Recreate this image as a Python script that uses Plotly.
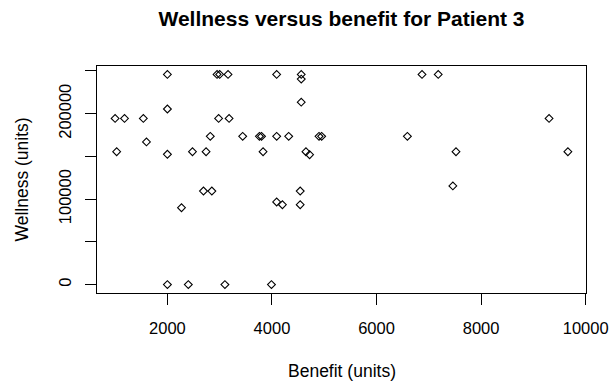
import plotly.graph_objects as go

# Benefit (x) and wellness (y) readings for Patient 3
benefit = [2000, 2950, 3000, 3160, 4090, 4560, 4560, 6870, 7180,
           4560, 2000,
           1000, 1180, 1540, 2980, 3180, 9300,
           2820, 3440, 3760, 3800, 4090, 4320, 4900, 4950, 6590,
           1600,
           1030, 2000, 2480, 2740, 3830, 4650, 4720, 7520, 9660,
           7460,
           2690, 2850, 4540,
           4090, 4200, 4540, 2270,
           2000, 2400, 3100, 3990]
wellness = [246000, 246000, 246000, 246000, 246000, 246000, 240500, 246000, 246000,
            213500, 205500,
            194500, 194500, 194500, 194500, 194500, 194500,
            173500, 173500, 173500, 173500, 173500, 173500, 173500, 173500, 173500,
            167000,
            155500, 152500, 155500, 155500, 155500, 155500, 152000, 155500, 155500,
            115500,
            109500, 109500, 109500,
            96700, 93500, 93500, 90000,
            0, 0, 0, 0]

x_ticks = [2000, 4000, 6000, 8000, 10000]
x_labels = ["2000", "4000", "6000", "8000", "10000"]
y_ticks = [0, 50000, 100000, 150000, 200000, 250000]
y_labels = ["0", "", "100000", "", "200000", ""]

FONT = "Liberation Sans, Arial, sans-serif"

# axis limits padded 4% beyond the data, base-R style
def padded(vals, frac=0.04):
    lo, hi = min(vals), max(vals)
    d = (hi - lo) * frac
    return [lo - d, hi + d]

fig = go.Figure(go.Scatter(
    x=benefit, y=wellness, mode="markers",
    marker=dict(symbol="diamond-open", size=6, color="black",
                line=dict(color="black", width=1.1)),
    showlegend=False,
))

axis_common = dict(
    showgrid=False, zeroline=False, automargin=False,
    showline=True, mirror=True, linecolor="black", linewidth=1,
    ticks="outside", ticklen=11, tickwidth=1, tickcolor="black",
    tickfont=dict(family=FONT, size=16.5, color="black"),
)

fig.update_xaxes(range=padded(benefit), tickmode="array",
                 tickvals=x_ticks, ticktext=x_labels,
                 ticklabelstandoff=9, **axis_common)
fig.update_yaxes(range=padded(wellness), tickmode="array",
                 tickvals=y_ticks, ticktext=y_labels, tickangle=-90,
                 ticklabelstandoff=7, **axis_common)

fig.update_layout(
    width=610, height=381,
    margin=dict(l=97, r=24, t=66, b=88, pad=0, autoexpand=False),
    paper_bgcolor="white", plot_bgcolor="white",
    title=dict(text="<b>Wellness versus benefit for Patient 3</b>",
               font=dict(family=FONT, size=21, color="black"),
               x=0.5, xref="paper", xanchor="center",
               y=1 - 19 / 381, yref="container", yanchor="middle"),
    annotations=[
        dict(text="Benefit (units)", xref="paper", yref="paper",
             x=0.5, y=0, xanchor="center", yanchor="middle",
             yshift=-78, showarrow=False,
             font=dict(family=FONT, size=17.5, color="black")),
        dict(text="Wellness (units)", xref="paper", yref="paper",
             x=0, y=0.5, xanchor="center", yanchor="middle",
             xshift=-76, textangle=-90, showarrow=False,
             font=dict(family=FONT, size=17.5, color="black")),
    ],
)

fig.write_html("out.html")
